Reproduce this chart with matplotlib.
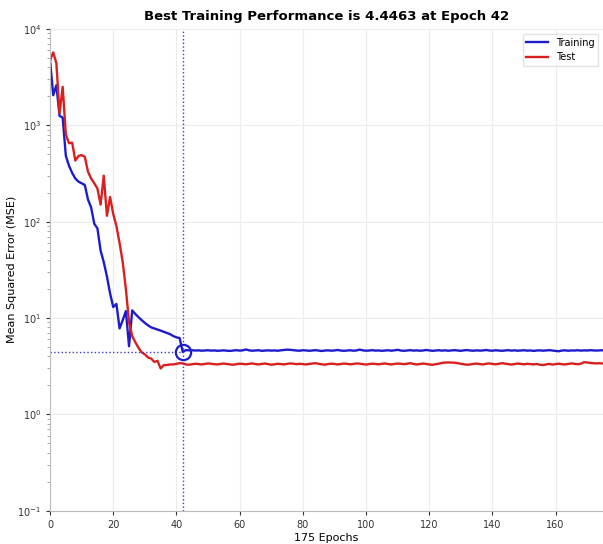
import numpy as np
import matplotlib
matplotlib.use('Agg')
import matplotlib.pyplot as plt

# MSE per epoch (0..175)
train_head = [4700, 2050, 2600, 1250, 1200, 480, 380, 320, 280, 260,
              250, 240, 170, 140, 95, 85, 50, 38, 27, 18,
              13, 14, 7.8, 9.5, 11.8, 5.1, 12, 11, 10.2, 9.5,
              8.9, 8.4, 8.0, 7.8, 7.6, 7.4, 7.2, 7.0, 6.8, 6.5,
              6.3, 6.2, 4.4463]
train_tail = [4.65, 4.62, 4.63, 4.60, 4.62, 4.58, 4.60, 4.63, 4.59, 4.61,
              4.57, 4.60, 4.62, 4.58, 4.56, 4.60, 4.64, 4.59, 4.62, 4.72,
              4.62, 4.58, 4.60, 4.63, 4.57, 4.60, 4.62, 4.59, 4.61, 4.58,
              4.62, 4.66, 4.70, 4.68, 4.64, 4.60, 4.58, 4.63, 4.61, 4.57,
              4.60, 4.64, 4.59, 4.55, 4.60, 4.62, 4.58, 4.61, 4.66, 4.60,
              4.57, 4.60, 4.63, 4.58, 4.61, 4.70, 4.62, 4.58, 4.60, 4.64,
              4.59, 4.61, 4.57, 4.60, 4.63, 4.58, 4.62, 4.68, 4.60, 4.57,
              4.61, 4.64, 4.59, 4.62, 4.58, 4.60, 4.66, 4.61, 4.57, 4.60,
              4.63, 4.59, 4.62, 4.58, 4.61, 4.64, 4.60, 4.57, 4.62, 4.65,
              4.60, 4.58, 4.62, 4.59, 4.61, 4.66, 4.60, 4.58, 4.63, 4.60,
              4.57, 4.61, 4.64, 4.59, 4.62, 4.58, 4.60, 4.63, 4.59, 4.61,
              4.56, 4.60, 4.62, 4.58, 4.61, 4.64, 4.60, 4.57, 4.52, 4.60,
              4.62, 4.58, 4.61, 4.60, 4.63, 4.59, 4.62, 4.60, 4.64, 4.61,
              4.60, 4.62, 4.63]

test_head = [4700, 5700, 4400, 1330, 2500, 800, 650, 660, 430, 480,
             490, 470, 330, 280, 250, 220, 150, 300, 115, 180,
             120, 90, 60, 38, 20, 9, 6.5, 5.6, 4.9, 4.4,
             4.2, 3.9, 3.8, 3.5, 3.6, 3.0, 3.25, 3.25, 3.3, 3.3,
             3.35, 3.4, 3.38]
test_tail = [3.30, 3.28, 3.32, 3.35, 3.33, 3.30, 3.34, 3.38, 3.35, 3.32,
             3.30, 3.34, 3.37, 3.33, 3.30, 3.28, 3.32, 3.36, 3.34, 3.31,
             3.35, 3.38, 3.33, 3.30, 3.34, 3.37, 3.33, 3.28, 3.31, 3.35,
             3.33, 3.30, 3.34, 3.38, 3.36, 3.32, 3.35, 3.33, 3.30, 3.34,
             3.37, 3.40, 3.35, 3.31, 3.28, 3.33, 3.36, 3.34, 3.30, 3.33,
             3.37, 3.35, 3.31, 3.34, 3.38, 3.36, 3.32, 3.29, 3.33, 3.36,
             3.34, 3.31, 3.35, 3.38, 3.33, 3.30, 3.34, 3.37, 3.35, 3.32,
             3.36, 3.40, 3.34, 3.30, 3.33, 3.37, 3.34, 3.30, 3.27, 3.32,
             3.36, 3.42, 3.45, 3.46, 3.45, 3.44, 3.40, 3.35, 3.31, 3.28,
             3.30, 3.34, 3.37, 3.33, 3.30, 3.35, 3.38, 3.34, 3.31, 3.35,
             3.40, 3.36, 3.32, 3.29, 3.33, 3.37, 3.34, 3.31, 3.35, 3.33,
             3.30, 3.34, 3.28, 3.25, 3.30, 3.34, 3.29, 3.33, 3.36, 3.32,
             3.30, 3.34, 3.38, 3.35, 3.32, 3.36, 3.48, 3.46, 3.42, 3.40,
             3.38, 3.40, 3.37]

train = np.array(train_head + train_tail)
test = np.array(test_head + test_tail)
epochs = np.arange(len(train))

best_epoch = 42
best_perf = 4.4463

fig = plt.figure(figsize=(6.03, 5.44), dpi=100)
ax = fig.add_axes([0.083, 0.061, 0.917, 0.886])

ax.plot(epochs, train, color='#1c1ccc', lw=1.7, label='Training')
ax.plot(epochs, test, color='#d92020', lw=1.7, label='Test')

ax.axvline(best_epoch, color='#3a3acc', ls=':', lw=1.0)
ax.plot([0, best_epoch], [best_perf, best_perf], color='#3a3acc', ls=':', lw=1.0)
ax.plot(best_epoch, best_perf, 'o', ms=11, mfc='none', mec='#1c1ccc', mew=1.6)

ax.set_yscale('log')
ax.set_ylim(0.1, 10000)
ax.set_xlim(0, 175)
ax.set_xticks(range(0, 161, 20))
ax.grid(True, color='#ececec', lw=0.8)
ax.grid(False, which='minor')

for s in ['top', 'right']:
    ax.spines[s].set_visible(False)
for s in ['left', 'bottom']:
    ax.spines[s].set_color('#bbbbbb')
ax.tick_params(labelsize=7, colors='#333333', length=3)
ax.tick_params(which='minor', length=2, color='#999999')

ax.set_title('Best Training Performance is 4.4463 at Epoch 42',
             fontsize=9.5, fontweight='bold', pad=6)
ax.set_xlabel('175 Epochs', fontsize=8, labelpad=2)
ax.set_ylabel('Mean Squared Error (MSE)', fontsize=8)
ax.yaxis.set_label_coords(-0.06, 0.5)
ax.legend(loc='upper right', fontsize=7, frameon=True, edgecolor='#dddddd',
          fancybox=False, handlelength=2.2)

plt.savefig('out.png', dpi=100)
